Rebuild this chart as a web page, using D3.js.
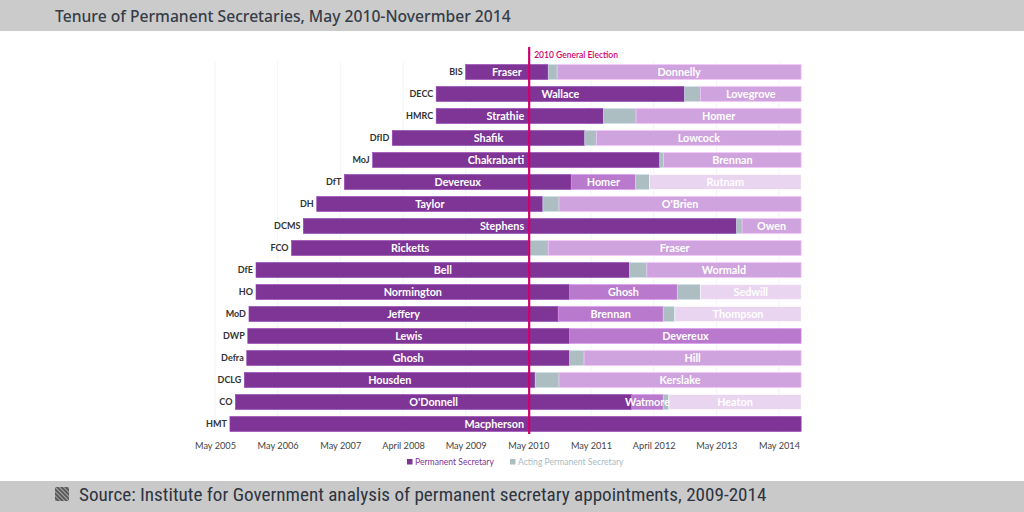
<!DOCTYPE html>
<html><head><meta charset="utf-8">
<script src="https://cdn.jsdelivr.net/npm/d3@7"></script>
<style>
html,body{margin:0;padding:0;background:#fff;}
svg{display:block;}
</style></head>
<body>
<svg id="chart" width="1024" height="512"></svg>
<script>
// ---------- DATA ----------
const titleText = "Tenure of Permanent Secretaries, May 2010-Novermber 2014";
const sourceText = "Source: Institute for Government analysis of permanent secretary appointments, 2009-2014";
const electionLabel = "2010 General Election";
const electionDate = "2010-05-06";

const departments = ["BIS","DECC","HMRC","DfID","MoJ","DfT","DH","DCMS","FCO","DfE","HO","MoD","DWP","Defra","DCLG","CO","HMT"];

const tickDates  = ["2005-05-01","2006-05-01","2007-05-01","2008-05-01","2009-05-01","2010-05-01","2011-05-01","2012-05-01","2013-05-01","2014-05-01"];
const tickLabels = ["May 2005","May 2006","May 2007","April 2008","May 2009","May 2010","May 2011","April 2012","May 2013","May 2014"];

const seriesKeys = ["first","direct","acting","successor","third"];
const legendKeys = ["first","acting"];
const legendLabels = ["Permanent Secretary","Acting Permanent Secretary"];

const END = "2014-09-07";
// [department, holder, series, from, to]
const segments = [
  ["BIS","Fraser","first","2009-05-01","2010-08-25"],
  ["BIS","","acting","2010-08-25","2010-10-16"],
  ["BIS","Donnelly","successor","2010-10-16",END],
  ["DECC","Wallace","first","2008-11-10","2012-10-28"],
  ["DECC","","acting","2012-10-28","2013-01-28"],
  ["DECC","Lovegrove","successor","2013-01-28",END],
  ["HMRC","Strathie","first","2008-11-10","2011-07-13"],
  ["HMRC","","acting","2011-07-13","2012-01-19"],
  ["HMRC","Homer","successor","2012-01-19",END],
  ["DfID","Shafik","first","2008-02-28","2011-03-26"],
  ["DfID","","acting","2011-03-26","2011-06-03"],
  ["DfID","Lowcock","successor","2011-06-03",END],
  ["MoJ","Chakrabarti","first","2007-11-06","2012-06-05"],
  ["MoJ","","acting","2012-06-05","2012-06-28"],
  ["MoJ","Brennan","successor","2012-06-28",END],
  ["DfT","Devereux","first","2007-05-25","2011-01-06"],
  ["DfT","Homer","direct","2011-01-06","2012-01-16"],
  ["DfT","","acting","2012-01-16","2012-04-06"],
  ["DfT","Rutnam","third","2012-04-06",END],
  ["DH","Taylor","first","2006-12-15","2010-07-25"],
  ["DH","","acting","2010-07-25","2010-10-27"],
  ["DH","O'Brien","successor","2010-10-27",END],
  ["DCMS","Stephens","first","2006-09-28","2013-08-27"],
  ["DCMS","","acting","2013-08-27","2013-09-28"],
  ["DCMS","Owen","successor","2013-09-28",END],
  ["FCO","Ricketts","first","2006-07-21","2010-05-04"],
  ["FCO","","acting","2010-05-04","2010-08-25"],
  ["FCO","Fraser","successor","2010-08-25",END],
  ["DfE","Bell","first","2005-12-26","2011-12-12"],
  ["DfE","","acting","2011-12-12","2012-03-22"],
  ["DfE","Wormald","successor","2012-03-22",END],
  ["HO","Normington","first","2005-12-26","2010-12-28"],
  ["HO","Ghosh","direct","2010-12-28","2012-09-15"],
  ["HO","","acting","2012-09-15","2013-01-28"],
  ["HO","Sedwill","third","2013-01-28",END],
  ["MoD","Jeffery","first","2005-11-15","2010-10-22"],
  ["MoD","Brennan","direct","2010-10-22","2012-06-25"],
  ["MoD","","acting","2012-06-25","2012-09-01"],
  ["MoD","Thompson","third","2012-09-01",END],
  ["DWP","Lewis","first","2005-11-08","2010-12-28"],
  ["DWP","Devereux","direct","2010-12-28",END],
  ["Defra","Ghosh","first","2005-11-02","2010-12-28"],
  ["Defra","","acting","2010-12-28","2011-03-22"],
  ["Defra","Hill","successor","2011-03-22",END],
  ["DCLG","Housden","first","2005-10-19","2010-06-10"],
  ["DCLG","","acting","2010-06-10","2010-10-27"],
  ["DCLG","Kerslake","successor","2010-10-27",END],
  ["CO","O'Donnell","first","2005-08-28","2011-12-25"],
  ["CO","Watmore","direct","2011-12-25","2012-06-25"],
  ["CO","","acting","2012-06-25","2012-07-28"],
  ["CO","Heaton","third","2012-07-28",END],
  ["HMT","Macpherson","first","2005-07-27",END]
];

// ---------- DRAW ----------
const parse = d3.timeParse("%Y-%m-%d");
const svg = d3.select("#chart");
const W = 1024, H = 512;

const color = d3.scaleOrdinal()
  .domain(seriesKeys)
  .range(["#7e3596","#b979cc","#adbec3","#cfa4de","#e9d5f0"]);

// header & footer bands
svg.append("rect").attr("x",0).attr("y",0).attr("width",W).attr("height",31).attr("fill","#cbcbcb");
svg.append("rect").attr("x",0).attr("y",481).attr("width",W).attr("height",31).attr("fill","#c9c9c9");

const title = svg.append("text").attr("x",55).attr("y",21.5)
  .attr("font-family","'Noto Sans', 'Open Sans', sans-serif").attr("font-weight",500).attr("font-size",16.5)
  .attr("fill","#363c48").text(titleText);
{ const w = title.node().getComputedTextLength(); title.attr("font-size", 16.5*456/w); }

// footer icon with hatch
const defs = svg.append("defs");
const pat = defs.append("pattern").attr("id","hatch").attr("patternUnits","userSpaceOnUse")
  .attr("width",3).attr("height",3).attr("patternTransform","rotate(-45)");
pat.append("rect").attr("width",3).attr("height",3).attr("fill","#5a5a5a");
pat.append("rect").attr("width",1).attr("height",3).attr("fill","#a8a8a8");
svg.append("rect").attr("x",55).attr("y",487).attr("width",14).attr("height",14).attr("fill","url(#hatch)");

const source = svg.append("text").attr("x",79).attr("y",501)
  .attr("font-family","'Liberation Sans Narrow', 'Roboto Condensed', 'Liberation Sans', sans-serif")
  .attr("font-size",17).attr("fill","#2e3440").text(sourceText);
{ const w = source.node().getComputedTextLength(); source.attr("font-size", 17*688/w); }

// scales
const x = d3.scaleTime()
  .domain([parse("2005-05-01"), parse("2014-05-01")])
  .range([215, 779]);
const y = d3.scaleBand().domain(departments).range([61, 435]).paddingInner(0.32).paddingOuter(0.16);

// gridlines
svg.append("g").selectAll("line").data(tickDates).join("line")
  .attr("x1",d=>x(parse(d))).attr("x2",d=>x(parse(d)))
  .attr("y1",62).attr("y2",432)
  .attr("stroke","#f4f4f4").attr("stroke-width",1);

// x axis
const xAxis = d3.axisBottom(x)
  .tickValues(tickDates.map(parse))
  .tickFormat((d,i)=>tickLabels[i])
  .tickSize(0).tickPadding(0);
const gx = svg.append("g").attr("transform","translate(0,442)").call(xAxis);
gx.select(".domain").remove();
gx.selectAll("text").attr("font-family","Lato, sans-serif").attr("font-size",9.2).attr("fill","#444").attr("dy","0.71em");

// bars
const bars = svg.append("g");
bars.selectAll("rect").data(segments).join("rect")
  .attr("x", d=>x(parse(d[3])))
  .attr("width", d=>Math.max(0, x(parse(d[4])) - x(parse(d[3]))))
  .attr("y", d=>y(d[0]))
  .attr("height", y.bandwidth())
  .attr("fill", d=>color(d[2]))
  .attr("stroke", d=>d3.color(color(d[2])).brighter(0.5))
  .attr("stroke-width",0.6);

// department labels
const starts = d3.rollup(segments, v=>d3.min(v, d=>parse(d[3])), d=>d[0]);
svg.append("g").selectAll("text").data(departments).join("text")
  .attr("x", d=>x(starts.get(d)) - 3)
  .attr("y", d=>y(d) + y.bandwidth()/2)
  .attr("dy","0.35em").attr("text-anchor","end")
  .attr("font-family","Lato, sans-serif").attr("font-weight","bold").attr("font-size",9)
  .attr("fill","#333").text(d=>d);

// election line
const ex = x(parse(electionDate));
// name labels
const lg = svg.append("g");
lg.selectAll("text").data(segments.filter(d=>d[1] !== "")).join("text")
  .attr("y", d=>y(d[0]) + y.bandwidth()/2)
  .attr("dy","0.36em").attr("text-anchor","middle")
  .attr("font-family","Lato, sans-serif").attr("font-weight","bold").attr("font-size",10.8)
  .attr("fill","#fff").text(d=>d[1])
  .each(function(d){
    const x0 = x(parse(d[3])), x1 = x(parse(d[4]));
    let cx = (x0+x1)/2;
    const w = this.getComputedTextLength();
    if (cx - w/2 < ex + 2 && cx + w/2 > ex - 2) cx = ex - 5 - w/2;
    d3.select(this).attr("x", cx);
  });

svg.append("line").attr("x1",ex).attr("x2",ex).attr("y1",47).attr("y2",434)
  .attr("stroke","#d1006c").attr("stroke-width",2.2);
svg.append("text").attr("x",ex+5).attr("y",58)
  .attr("font-family","Lato, sans-serif").attr("font-weight","600").attr("font-size",8.5)
  .attr("fill","#d1006c").text(electionLabel);

// legend
const leg = svg.append("g");
const legX = [407, 510];
legendKeys.forEach((k,i)=>{
  leg.append("rect").attr("x",legX[i]).attr("y",459).attr("width",5.5).attr("height",5.5).attr("fill",color(k));
  leg.append("text").attr("x",legX[i]+8).attr("y",462).attr("dy","0.35em")
    .attr("font-family","Lato, sans-serif").attr("font-size",8.6)
    .attr("fill", k==="acting" ? "#a9bcc2" : "#7e3596").text(legendLabels[i]);
});
</script>
</body></html>
